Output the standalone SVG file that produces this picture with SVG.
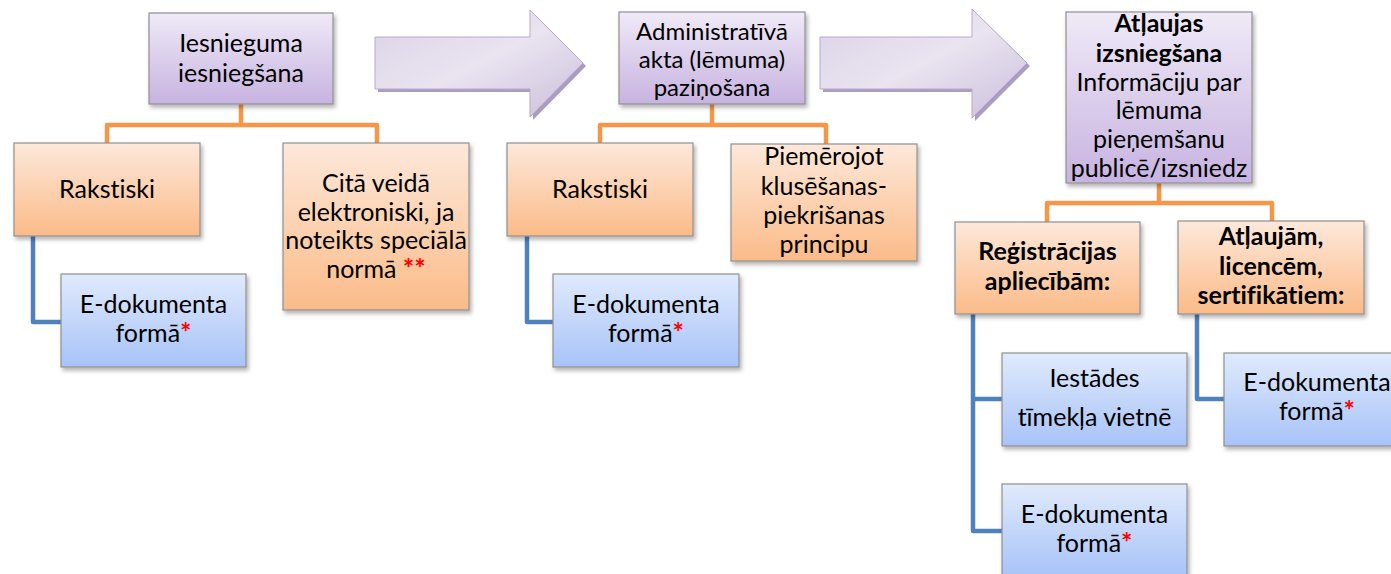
<svg xmlns="http://www.w3.org/2000/svg" width="1391" height="574" viewBox="0 0 1391 574">
<style>
  text { font-family: Lato, "Liberation Sans", sans-serif; font-size: 25px; fill: #000; text-anchor: middle; font-variant-ligatures: none; }
  .b { font-weight: bold; }
  .s { font-size: 24px; }
  .red { fill: #ff0000; font-weight: bold; font-size: 27px; }
  .box { stroke: #8f8f8f; stroke-width: 1.2; filter: url(#sh); }
  .pur { fill: url(#gPur); }
  .org { fill: url(#gOrg); }
  .blu { fill: url(#gBlu); }
  .oc { fill: none; stroke: #f79646; stroke-width: 4.5; stroke-linejoin: round; }
  .bc { fill: none; stroke: #4f81bd; stroke-width: 4.5; stroke-linejoin: round; }
  .arr { fill: url(#gArr); stroke: #b8a9cc; stroke-width: 1; }
  .arrsh { fill: #ab9dc1; }
</style>
<defs>
  <linearGradient id="gPur" x1="0" y1="0" x2="0" y2="1">
    <stop offset="0" stop-color="#efeaf7"/>
    <stop offset="1" stop-color="#c7b3e0"/>
  </linearGradient>
  <linearGradient id="gOrg" x1="0" y1="0" x2="0" y2="1">
    <stop offset="0" stop-color="#fde8da"/>
    <stop offset="1" stop-color="#fbbb88"/>
  </linearGradient>
  <linearGradient id="gBlu" x1="0" y1="0" x2="0" y2="1">
    <stop offset="0" stop-color="#e0eafc"/>
    <stop offset="1" stop-color="#a7c3f8"/>
  </linearGradient>
  <linearGradient id="gArr" x1="0" y1="0" x2="1" y2="1">
    <stop offset="0" stop-color="#dbd2e7"/>
    <stop offset="0.5" stop-color="#e9e4f0"/>
    <stop offset="1" stop-color="#cbbedc"/>
  </linearGradient>
  <filter id="sh" x="-10%" y="-10%" width="125%" height="130%">
    <feDropShadow dx="2" dy="3" stdDeviation="2" flood-color="#000" flood-opacity="0.3"/>
  </filter>
</defs>

<g id="arrows">
  <polygon class="arrsh" points="378,40 533,40 533,13 586,66 533,120 533,92 378,92"/>
  <polygon class="arr" points="375,37 530,37 530,10 583,63 530,117 530,89 375,89"/>
  <polygon class="arrsh" points="823,40 975,40 975,12 1030,66 975,121 975,92 823,92"/>
  <polygon class="arr" points="820,37 972,37 972,9 1027,63 972,118 972,89 820,89"/>
</g>

<g id="connectors">
  <path class="oc" d="M241,104 V125 M107,143 V125 H377 V143"/>
  <path class="oc" d="M712,104 V125 M600,143 V125 H826 V144"/>
  <path class="oc" d="M1159,183 V203 M1047,222 V203 H1272 V221"/>
  <path class="bc" d="M33,236 V322 H61"/>
  <path class="bc" d="M527,236 V322 H553"/>
  <path class="bc" d="M973,314 V531 H1002 M973,399 H1002"/>
  <path class="bc" d="M1197,314 V399 H1224"/>
</g>

<g id="n1">
  <rect class="box pur" x="149" y="13" width="184" height="91"/>
  <text x="241" y="52">Iesnieguma</text>
  <text x="241" y="82">iesniegšana</text>
</g>
<g id="n2">
  <rect class="box pur" x="619" y="12" width="186" height="92"/>
  <text class="s" x="712" y="40">Administratīvā</text>
  <text class="s" x="712" y="68">akta (lēmuma)</text>
  <text class="s" x="712" y="96">paziņošana</text>
</g>
<g id="n3">
  <rect class="box pur" x="1066" y="12" width="186" height="171"/>
  <text class="b" x="1159" y="32">Atļaujas</text>
  <text class="b" x="1159" y="62">izsniegšana</text>
  <text x="1159" y="91">Informāciju par</text>
  <text x="1159" y="119">lēmuma</text>
  <text x="1159" y="148">pieņemšanu</text>
  <text x="1159" y="177">publicē/izsniedz</text>
</g>

<g id="n1a">
  <rect class="box org" x="14" y="143" width="186" height="93"/>
  <text x="107" y="198">Rakstiski</text>
</g>
<g id="n1b">
  <rect class="box org" x="283" y="143" width="186" height="167"/>
  <text x="376" y="192">Citā veidā</text>
  <text x="376" y="221">elektroniski, ja</text>
  <text x="376" y="249">noteikts speciālā</text>
  <text x="376" y="278">normā <tspan class="red">**</tspan></text>
</g>
<g id="n1c">
  <rect class="box blu" x="61" y="274" width="185" height="93"/>
  <text x="153.5" y="313">E-dokumenta</text>
  <text x="153.5" y="342">formā<tspan class="red">*</tspan></text>
</g>

<g id="n2a">
  <rect class="box org" x="507" y="143" width="186" height="93"/>
  <text x="600" y="198">Rakstiski</text>
</g>
<g id="n2b">
  <rect class="box org" x="731" y="144" width="186" height="117"/>
  <text x="824" y="165">Piemērojot</text>
  <text x="824" y="195">klusēšanas-</text>
  <text x="824" y="224">piekrišanas</text>
  <text x="824" y="253">principu</text>
</g>
<g id="n2c">
  <rect class="box blu" x="553" y="274" width="186" height="93"/>
  <text x="646" y="313">E-dokumenta</text>
  <text x="646" y="342">formā<tspan class="red">*</tspan></text>
</g>

<g id="n3a">
  <rect class="box org" x="955" y="222" width="185" height="92"/>
  <text class="b" x="1047.5" y="260">Reģistrācijas</text>
  <text class="b" x="1047.5" y="290">apliecībām:</text>
</g>
<g id="n3b">
  <rect class="box org" x="1178" y="221" width="186" height="93"/>
  <text class="b" x="1271" y="245">Atļaujām,</text>
  <text class="b" x="1271" y="275">licencēm,</text>
  <text class="b" x="1271" y="304">sertifikātiem:</text>
</g>
<g id="n3c">
  <rect class="box blu" x="1002" y="353" width="185" height="93"/>
  <text x="1094.5" y="387">Iestādes</text>
  <text x="1094.5" y="426">tīmekļa vietnē</text>
</g>
<g id="n3d">
  <rect class="box blu" x="1002" y="484" width="185" height="93"/>
  <text x="1094.5" y="523">E-dokumenta</text>
  <text x="1094.5" y="552">formā<tspan class="red">*</tspan></text>
</g>
<g id="n3e">
  <rect class="box blu" x="1224" y="353" width="186" height="93"/>
  <text x="1317" y="391">E-dokumenta</text>
  <text x="1317" y="420">formā<tspan class="red">*</tspan></text>
</g>
</svg>
